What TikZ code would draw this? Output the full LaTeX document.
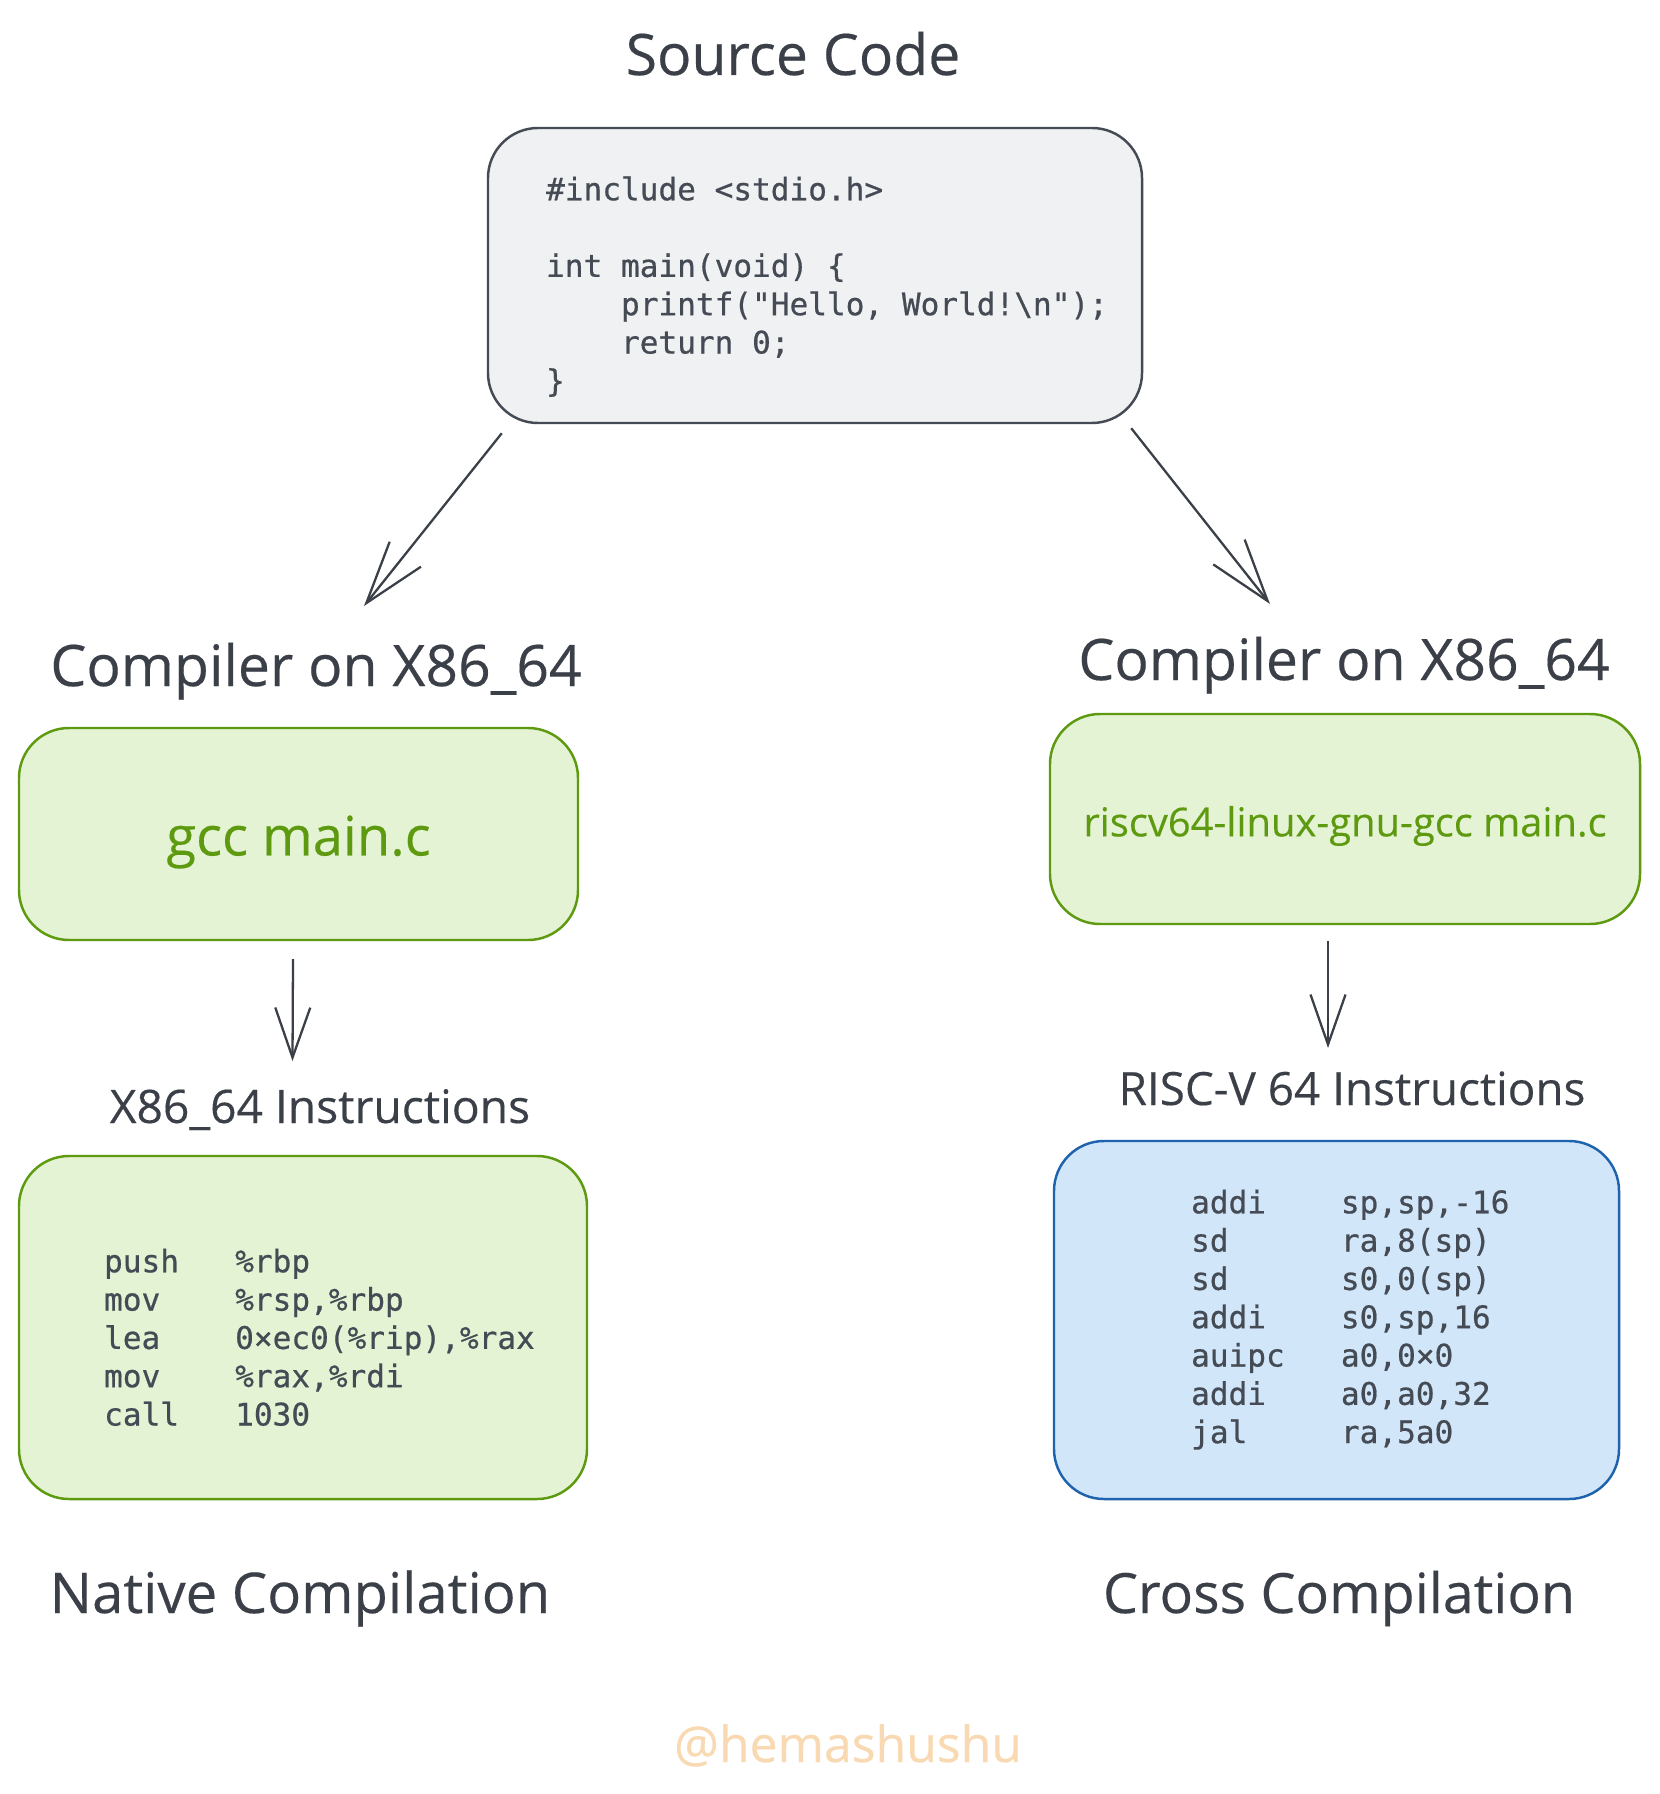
\documentclass[tikz,border=0pt]{standalone}
\usepackage{fontspec}
\setmainfont[FakeBold=0.3]{Open Sans}
\setmonofont[FakeBold=0.6]{DejaVu Sans Mono}
\usetikzlibrary{arrows.meta,positioning}

\definecolor{ink}{HTML}{3B4048}
\definecolor{codeink}{HTML}{454B54}
\definecolor{srcfill}{HTML}{F0F1F3}
\definecolor{limefill}{HTML}{E4F3D3}
\definecolor{limeline}{HTML}{5E9A10}
\definecolor{bluefill}{HTML}{D2E6F9}
\definecolor{blueline}{HTML}{1D63AE}
\definecolor{peach}{HTML}{F8D9B2}

\newcommand{\codefont}{\ttfamily\fontsize{17.7}{21.8}\selectfont}

\begin{document}
\begin{tikzpicture}[x=0.2mm,y=0.2mm]
	\tikzset{
		box/.style={draw, line width=1.4pt, rounded corners=10mm, inner sep=0pt},
		hand/.style={ink, inner sep=0pt, anchor=base, font=\fontsize{32.5}{39}\selectfont},
		code/.style={codeink, inner sep=0pt, anchor=base west, font=\codefont},
		arr/.style={ink, line width=1.3pt, -{Straight Barb[length=12.5mm,width=8mm]}},
		arrs/.style={arr, -{Straight Barb[length=10mm,width=7mm]}}
	}
	
	% Page
	\fill[white] (0,0) rectangle (1659,-1794);
	\useasboundingbox (0,0) rectangle (1659,-1794);
	
	% Source code on top
	\node[hand] (title) at (793,-75) {Source Code};
	\node[box, draw=codeink, fill=srcfill, minimum width=130.8mm, minimum height=59mm] (src) at (815,-275.5) {};
	\node[code] (srccode) at ([shift={(59,-73.5)}]src.north west) {%
		\begin{tabular}[t]{@{}l@{}}
			\#include <stdio.h>\\
			\\
			int main(void) \{\\
			\hphantom{xxxx}printf("Hello, World!\textbackslash n");\\
			\hphantom{xxxx}return 0;\\
			\}
	\end{tabular}};
	
	% Compilers
	\node[hand] (cl) at (316,-686) {Compiler on X86\_64};
	\node[hand] (cr) at (1344,-680) {Compiler on X86\_64};
	\node[box, draw=limeline, fill=limefill, text=limeline, font=\fontsize{31}{37}\selectfont,
		minimum width=111.8mm, minimum height=42.4mm] (gcc) at (298.5,-834) {\raisebox{-1.6mm}[\height][\depth]{gcc main.c}};
	\node[box, draw=limeline, fill=limefill, text=limeline, font=\fontsize{22.7}{27}\selectfont,
		minimum width=118mm, minimum height=42mm] (rv) at (1345,-819) {\raisebox{-1.4mm}[\height][\depth]{riscv64-linux-gnu-gcc main.c}};
	
	% Instructions
	\node[hand, font=\fontsize{26.3}{32}\selectfont] (xl) at (320,-1123) {X86\_64 Instructions};
	\node[hand, font=\fontsize{26.1}{32}\selectfont] (rl) at (1352,-1105) {RISC-V 64 Instructions};
	\node[box, draw=limeline, fill=limefill, minimum width=113.6mm, minimum height=68.6mm] (x86) at (303,-1327.5) {};
	\node[box, draw=blueline, fill=bluefill, minimum width=113mm, minimum height=71.6mm] (rvasm) at (1336.5,-1320) {};
	\node[code] (x86code) at ([shift={(86,-117.5)}]x86.north west) {%
		\begin{tabular}[t]{@{}l@{\hphantom{xxx}}l@{}}
			push & \%rbp\\
			mov  & \%rsp,\%rbp\\
			lea  & 0×ec0(\%rip),\%rax\\
			mov  & \%rax,\%rdi\\
			call & 1030
	\end{tabular}};
	\node[code] (rvcode) at ([shift={(138,-73.5)}]rvasm.north west) {%
		\begin{tabular}[t]{@{}l@{\hphantom{xxx}}l@{}}
			addi  & sp,sp,-16\\
			sd    & ra,8(sp)\\
			sd    & s0,0(sp)\\
			addi  & s0,sp,16\\
			auipc & a0,0×0\\
			addi  & a0,a0,32\\
			jal   & ra,5a0
	\end{tabular}};
	
	% Captions
	\node[hand, font=\fontsize{32}{38}\selectfont] (native) at (300,-1613) {Native Compilation};
	\node[hand, font=\fontsize{31.6}{38}\selectfont] (cross) at (1339,-1613) {Cross Compilation};
	\node[hand, peach, font=\fontsize{28.4}{34}\selectfont] (sig) at (848,-1762) {@hemashushu};
	
	% Arrows
	\draw[arr] ([shift={(15,-9)}]src.south west) -- ([shift={(48,80)}]cl.base);
	\draw[arr] ([shift={(-12,-4)}]src.south east) -- ([shift={(-74,76)}]cr.base);
	\draw[arrs] ([shift={(-5.5,-18)}]gcc.south) -- ([shift={(-27.5,62)}]xl.base);
	\draw[arrs] ([shift={(-17,-16)}]rv.south) -- ([shift={(-24,57)}]rl.base);
	
\end{tikzpicture}
\end{document}
